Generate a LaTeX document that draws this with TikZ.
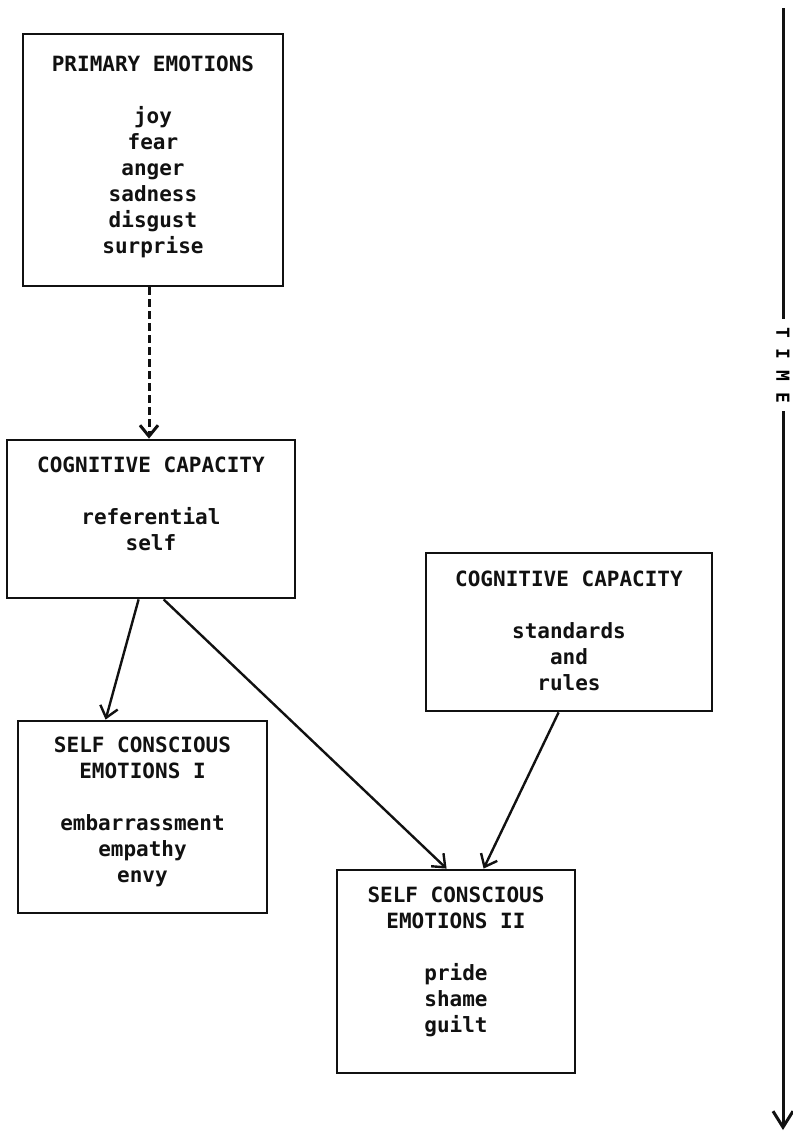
\documentclass[tikz,border=0pt]{standalone}
\usepackage{fontspec}
\setmonofont{DejaVu Sans Mono}
\usepackage{tikz}
\usetikzlibrary{arrows.meta,positioning}
\definecolor{inkblack}{HTML}{111111}
\tikzset{
  emobox/.style={
    draw=inkblack,
    line width=1.4pt,
    inner sep=0pt
  },
  boxtext/.style={
    align=center,
    inner sep=0pt,
    text=inkblack,
    font=\ttfamily\fontsize{10.5}{13}\selectfont
  },
  devarrow/.style={-{Straight Barb[length=5.5pt,width=9pt]}, line width=1.2pt, draw=inkblack},
  latearrow/.style={devarrow, line width=1.5pt, dash pattern=on 4pt off 2pt},
  timeline/.style={line width=1.5pt, draw=inkblack},
  timearrow/.style={timeline, -{Straight Barb[length=8pt,width=10pt]}}
}

\begin{document}
\begin{tikzpicture}[x=0.5pt, y=-0.5pt]
\useasboundingbox (0,0) rectangle (793,1132);
% boxes
\node[emobox, minimum width=130pt, minimum height=126pt] (prim) at (153,160) {};
\node[emobox, minimum width=144pt, minimum height=79pt] (cogself) at (151,519) {};
\node[emobox, minimum width=143pt, minimum height=79pt] (cogrules) at (569,632) {};
\node[emobox, minimum width=124.5pt, minimum height=96pt] (scone) at (142.5,817) {};
\node[emobox, minimum width=119pt, minimum height=101.5pt] (sctwo) at (456,971.5) {};

% box contents
\node[boxtext, below=11.5pt of prim.north] (prim-txt)
  {\textbf{PRIMARY EMOTIONS}\\[13pt]\textbf{joy}\\\textbf{fear}\\\textbf{anger}\\\textbf{sadness}\\\textbf{disgust}\\\textbf{surprise}};
\node[boxtext, below=9pt of cogself.north] (cogself-txt)
  {\textbf{COGNITIVE CAPACITY}\\[13pt]\textbf{referential}\\\textbf{self}};
\node[boxtext, below=9.5pt of cogrules.north] (cogrules-txt)
  {\textbf{COGNITIVE CAPACITY}\\[13pt]\textbf{standards}\\\textbf{and}\\\textbf{rules}};
\node[boxtext, below=8.5pt of scone.north] (scone-txt)
  {\textbf{SELF CONSCIOUS}\\\textbf{EMOTIONS I}\\[13pt]\textbf{embarrassment}\\\textbf{empathy}\\\textbf{envy}};
\node[boxtext, below=9pt of sctwo.north] (sctwo-txt)
  {\textbf{SELF CONSCIOUS}\\\textbf{EMOTIONS II}\\[13pt]\textbf{pride}\\\textbf{shame}\\\textbf{guilt}};

% connectors
\draw[latearrow] ([xshift=-2pt]prim.south) -- ([xshift=-1pt]cogself.north);
\draw[devarrow] ([xshift=66.5pt]cogself.south west) -- ([xshift=44.5pt]scone.north west);
\draw[devarrow] ([xshift=79pt]cogself.south west) -- ([xshift=55.5pt]sctwo.north west);
\draw[devarrow] ([xshift=67pt]cogrules.south west) -- ([xshift=74pt]sctwo.north west);

% time axis
\coordinate (timetop) at (783,8);
\coordinate (timeend) at (783,1130);
\node[font=\ttfamily\bfseries\fontsize{9}{9}\selectfont, rotate=-90, inner sep=4pt] (time) at (783,365) {T I M E};
\draw[timeline] (timetop) -- (time.west);
\draw[timearrow] (time.east) -- (timeend);
\end{tikzpicture}
\end{document}
